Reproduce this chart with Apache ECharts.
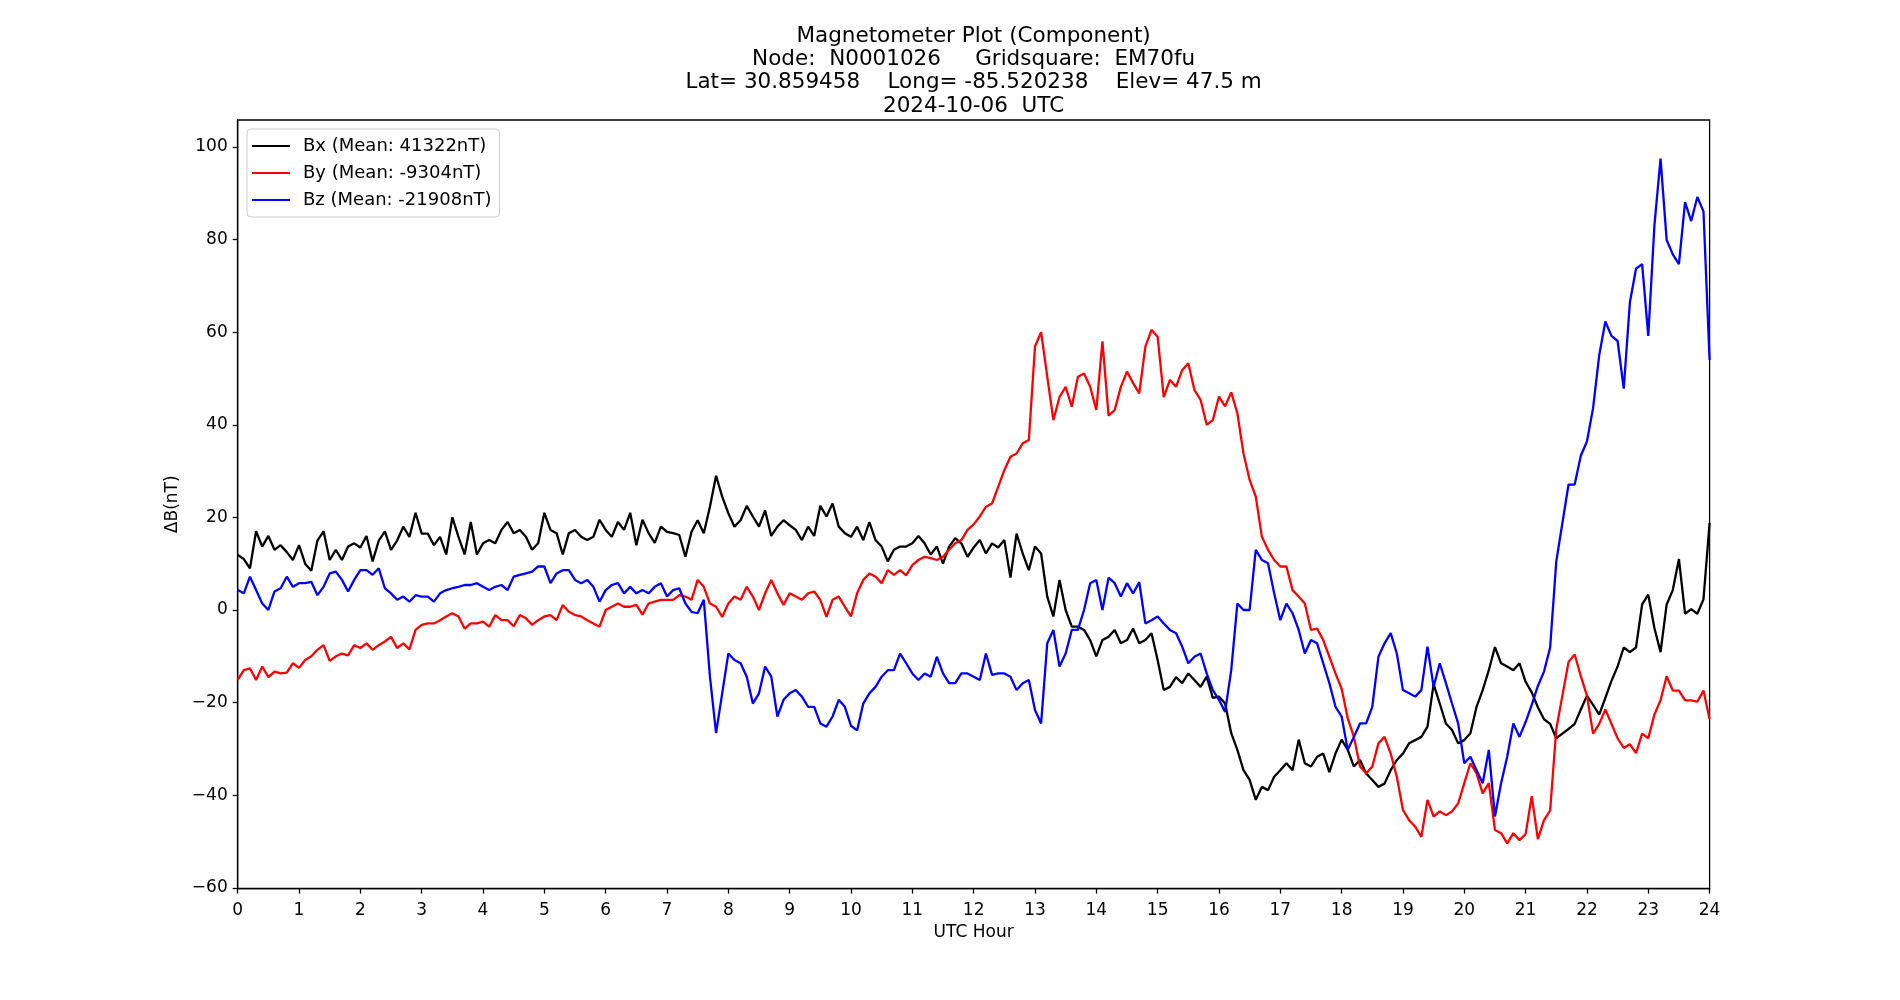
<!DOCTYPE html>
<html><head><meta charset="utf-8">
<script src="https://cdn.jsdelivr.net/npm/echarts@6/dist/echarts.min.js"></script>
<style>html,body{margin:0;padding:0;background:#fff}#c{width:1900px;height:1000px}</style>
</head><body><div id="c"></div>
<script>
// ---- data ----
const STEP_H = 0.1; // sample spacing in UTC hours (values start at 0h)
const titleLines = [
  'Magnetometer Plot (Component)',
  'Node:  N0001026     Gridsquare:  EM70fu',
  'Lat= 30.859458    Long= -85.520238    Elev= 47.5 m',
  '2024-10-06  UTC'
];
const seriesNames = ['Bx (Mean: 41322nT)', 'By (Mean: -9304nT)', 'Bz (Mean: -21908nT)'];
const xTicks = [0,1,2,3,4,5,6,7,8,9,10,11,12,13,14,15,16,17,18,19,20,21,22,23,24];
const yTicks = [-60,-40,-20,0,20,40,60,80,100];

const bx = [
  11.9, 11, 9, 17, 13.7, 16, 13, 14, 12.5, 10.8,
  14, 10, 8.5, 15, 17, 10.8, 13, 10.8, 13.7, 14.4,
  13.5, 16, 10.5, 15, 17, 13, 15, 18, 15.8, 21,
  16.5, 16.5, 14, 15.8, 12, 20, 15.8, 12, 19, 12,
  14.4, 15.1, 14.4, 17.3, 19, 16.6, 17.3, 15.8, 13, 14.4,
  21, 17.3, 16.6, 12, 16.6, 17.3, 15.8, 15.1, 15.8, 19.5,
  17.3, 15.8, 19, 17.3, 21, 14, 19.5, 16.6, 14.5, 18,
  16.9, 16.6, 16.2, 11.5, 16.9, 19.4, 16.6, 22.3, 29, 24.5,
  20.9, 18, 19.4, 22.5, 20.2, 18, 21.5, 16, 18, 19.4,
  18.3, 17.3, 15.1, 18, 16, 22.5, 20.2, 23, 18, 16.6,
  15.8, 18, 15.1, 19, 15.1, 13.7, 10.5, 13, 13.7, 13.7,
  14.4, 16, 14.4, 12, 13.7, 10, 13.7, 15.5, 14.4, 11.5,
  13.5, 15.1, 12.2, 14.4, 13.5, 15.1, 7, 16.5, 12.2, 8.6,
  13.7, 12.2, 2.9, -1.4, 6.5, 0, -3.6, -3.6, -4.3, -6.5,
  -10, -6.5, -5.8, -4.3, -7.2, -6.5, -4, -7.2, -6.5, -5,
  -10.8, -17.3, -16.6, -14.5, -15.8, -13.7, -15.1, -16.6, -14.4, -19,
  -18.7, -20.2, -26.6, -30.2, -34.6, -36.7, -41, -38.2, -38.9, -36,
  -34.6, -33.1, -34.6, -28, -33.1, -33.8, -31.7, -31, -35, -31,
  -28, -30.2, -33.8, -32.4, -35.3, -36.7, -38.2, -37.5, -34.6, -32.4,
  -31, -28.8, -28.1, -27.4, -25.2, -16, -20.2, -24.5, -25.9, -28.8,
  -28.1, -26.6, -20.9, -17.3, -13, -8, -11.5, -12.2, -13, -11.5,
  -15.5, -17.8, -21, -23.6, -24.6, -27.7, -26.7, -25.7, -24.6, -21.5,
  -18.5, -20.5, -22.6, -19, -15.3, -12.2, -8.1, -9.1, -8.1, 1.2,
  3.3, -3.9, -9.1, 1.2, 4.3, 11, -0.8, 0.2, -0.8, 2.3,
  18.8
];
const by = [
  -15.1, -13, -12.6, -15.1, -12.2, -14.5, -13.3, -13.7, -13.5, -11.5,
  -12.5, -10.8, -10, -8.6, -7.6, -11, -10, -9.4, -9.8, -7.6,
  -8.2, -7.2, -8.6, -7.6, -6.8, -5.8, -8.2, -7.2, -8.5, -4.3,
  -3.2, -2.9, -2.9, -2.2, -1.4, -0.7, -1.4, -4, -2.9, -2.9,
  -2.5, -3.6, -1.1, -2.2, -2.2, -3.5, -1.1, -1.8, -3.2, -2.2,
  -1.4, -1.1, -2.2, 1.1, -0.4, -1.1, -1.4, -2.2, -2.9, -3.6,
  0, 0.7, 1.4, 0.7, 0.7, 1.1, -1, 1.4, 1.8, 2.2,
  2.2, 2.2, 3.2, 2.9, 2.2, 6.5, 5, 1.4, 0.7, -1.5,
  1.4, 2.9, 2.2, 5, 2.9, 0, 3.6, 6.5, 3.6, 1.1,
  3.6, 2.9, 2.2, 3.6, 4, 2.2, -1.5, 2.2, 2.9, 0.7,
  -1.4, 3.6, 6.5, 7.9, 7.2, 5.8, 8.6, 7.6, 8.6, 7.5,
  9.7, 10.8, 11.5, 11.2, 10.8, 11.5, 13, 14.4, 15.1, 17.3,
  18.5, 20.2, 22.3, 23, 26.6, 30.2, 33.1, 33.8, 36, 36.7,
  56.9, 60, 50.4, 41, 46, 48.2, 43.9, 50.4, 51.1, 48.2,
  43.2, 58, 42, 43.2, 48.2, 51.5, 49, 46.8, 56.9, 60.5,
  59, 46, 49.7, 48.2, 51.8, 53.3, 47.5, 45.4, 40, 41,
  46.1, 44, 47, 42.5, 33.8, 28.1, 24.5, 15.8, 13, 10.8,
  9.4, 9.4, 4.3, 2.9, 1.4, -4.3, -4, -6.5, -10.1, -13.7,
  -17, -23.4, -27.4, -33.8, -35.3, -33.8, -28.8, -27.4, -31, -36,
  -43.2, -45.4, -46.8, -49, -41, -44.6, -43.5, -44.3, -43.5, -41.8,
  -37.4, -33.1, -35.3, -39.6, -37.4, -47.5, -48.2, -50.4, -48.2, -49.7,
  -48.4, -40.2, -49.5, -45.4, -43.3, -25.7, -18.5, -11.2, -9.6, -14.3,
  -18.5, -26.7, -24.6, -21.5, -24.6, -27.7, -29.8, -29, -30.9, -26.7,
  -27.7, -22.6, -19.5, -14.3, -17.4, -17.4, -19.5, -19.5, -19.8, -17.4,
  -23.6
];
const bz = [
  4.3, 3.6, 7.2, 4.3, 1.4, 0, 4, 4.7, 7.2, 5,
  5.8, 5.8, 6.1, 3.2, 5, 7.9, 8.3, 6.5, 4, 6.5,
  8.6, 8.6, 7.6, 9, 4.7, 3.6, 2.2, 2.9, 1.8, 3.2,
  2.9, 2.9, 1.8, 3.6, 4.3, 4.7, 5, 5.4, 5.4, 5.8,
  5, 4.3, 5, 5.4, 4.3, 7.2, 7.6, 7.9, 8.3, 9.4,
  9.4, 5.8, 7.9, 8.6, 8.6, 6.5, 5.8, 6.5, 5, 1.8,
  4.3, 5.4, 5.8, 3.6, 5, 3.6, 4.3, 3.6, 5, 5.8,
  2.9, 4.3, 4.7, 1.4, -0.4, -0.7, 2.2, -14.4, -26.6, -18,
  -9.4, -10.8, -11.5, -14.4, -20.2, -18, -12.2, -14.4, -23, -19.4,
  -18, -17.3, -18.7, -20.9, -20.9, -24.5, -25.2, -23, -19.4, -20.9,
  -25, -26, -20.2, -18, -16.6, -14.4, -13, -13, -9.4, -11.5,
  -13.7, -15.1, -13.7, -14.4, -10.1, -13.7, -15.8, -15.8, -13.7, -13.7,
  -14.4, -15.1, -9.4, -14, -13.7, -13.7, -14.4, -17.3, -15.8, -15.1,
  -21.6, -24.5, -7.2, -4.3, -12.2, -9.4, -4.3, -4.3, 0, 5.8,
  6.5, 0, 7, 5.8, 2.9, 5.8, 3.6, 6, -2.9, -2.2,
  -1.4, -2.9, -4.3, -5, -7.9, -11.5, -10.1, -9.4, -13.7, -17.3,
  -19.4, -22, -13, 1.4, 0, 0, 13, 10.8, 10.1, 3.6,
  -2.2, 1.4, -0.7, -4.3, -9.4, -6.5, -7.2, -11.5, -15.8, -20.9,
  -23, -30.2, -27.4, -24.5, -24.5, -20.9, -10.1, -7.2, -5, -9.4,
  -17.3, -18, -18.7, -17.3, -7.9, -16.6, -11.5, -15.8, -20.2, -24.5,
  -33.1, -31.7, -34.6, -37.4, -30.2, -44.6, -37.4, -31.7, -24.5, -27.4,
  -24.2, -20.5, -16.4, -13.3, -8.1, 10.5, 18.8, 27.1, 27.1, 33.3,
  36.4, 43.6, 55, 62.3, 59.2, 58.1, 47.8, 66.4, 73.7, 74.7,
  59.2, 83, 97.5, 79.9, 76.8, 74.7, 88.1, 84, 89.2, 86.1,
  54
];
const seriesColors = ['#000000', '#ff0000', '#0000ff'];

// ---- chart ----
const FONT = 'DejaVu Sans';
const toPairs = arr => arr.map((v, i) => [+(i * STEP_H).toFixed(2), v]);
const minusFmt = v => String(v).replace('-', '\u2212');
const chart = echarts.init(document.getElementById('c'), null, {renderer: 'canvas'});
const titleY = [36.2, 59.5, 82.9, 106.2];

chart.setOption({
  animation: false,
  backgroundColor: '#ffffff',
  grid: {left: 237.7, right: 190.4, top: 120, bottom: 111.4, show: true,
         borderColor: '#000', borderWidth: 1.3, backgroundColor: 'transparent'},
  graphic: titleLines.map((t, i) => ({
    type: 'text', x: 973.6, y: titleY[i], silent: true,
    style: {text: t, fill: '#000', font: '21.5px "' + FONT + '"',
            textAlign: 'center', textVerticalAlign: 'middle'}
  })),
  legend: {
    orient: 'vertical', left: 247, top: 129,
    backgroundColor: '#fff', borderColor: '#cccccc', borderWidth: 1, borderRadius: 4,
    padding: [7, 8, 7, 5], itemWidth: 38, itemHeight: 2, itemGap: 7, icon: 'rect',
    textStyle: {fontSize: 18, color: '#000', fontFamily: FONT, lineHeight: 20, padding: [0, 0, 0, 8]},
    data: seriesNames
  },
  xAxis: {
    type: 'value', min: 0, max: 24, interval: 1,
    name: 'UTC Hour', nameLocation: 'middle', nameGap: 35,
    nameTextStyle: {fontSize: 17, color: '#000', fontFamily: FONT},
    axisLine: {show: true, onZero: false, lineStyle: {color: '#000', width: 1.3}},
    axisTick: {show: true, inside: false, length: 5, lineStyle: {color: '#000', width: 1.3}},
    axisLabel: {color: '#000', fontSize: 17, fontFamily: FONT, margin: 13, formatter: minusFmt},
    splitLine: {show: false}
  },
  yAxis: {
    type: 'value', min: -60.17, max: 105.83,
    name: 'ΔB(nT)', nameLocation: 'middle', nameGap: 55, nameRotate: 90,
    nameTextStyle: {fontSize: 17, color: '#000', fontFamily: FONT},
    axisLine: {show: true, onZero: false, lineStyle: {color: '#000', width: 1.3}},
    axisTick: {show: true, inside: false, length: 5, customValues: yTicks,
               lineStyle: {color: '#000', width: 1.3}},
    axisLabel: {color: '#000', fontSize: 17, fontFamily: FONT, margin: 10,
                customValues: yTicks, formatter: minusFmt},
    splitLine: {show: false}
  },
  series: [bx, by, bz].map((arr, i) => ({
    name: seriesNames[i], type: 'line', data: toPairs(arr),
    showSymbol: false, symbol: 'none', sampling: 'none',
    color: seriesColors[i],
    lineStyle: {color: seriesColors[i], width: 2.3},
    emphasis: {disabled: true}, z: 2 + i
  }))
});
</script>
</body></html>
